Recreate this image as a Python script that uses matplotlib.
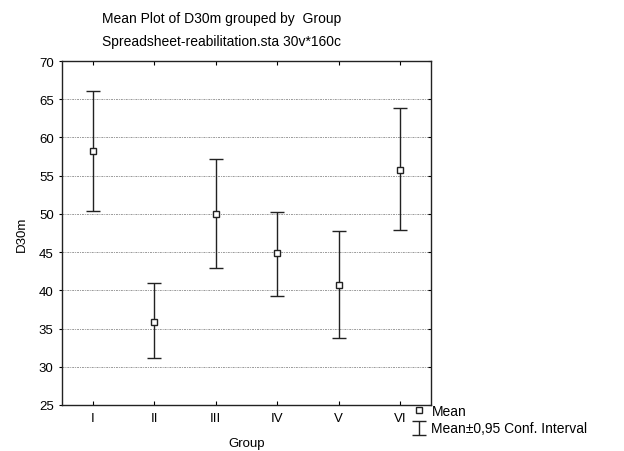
import matplotlib
matplotlib.use("Agg")
import matplotlib.pyplot as plt

plt.rcParams['font.family'] = ['Liberation Sans', 'DejaVu Sans']

# group means and 95% confidence limits
groups = ["I", "II", "III", "IV", "V", "VI"]
means = [58.2, 35.9, 50.0, 44.9, 40.7, 55.8]
upper = [66.1, 41.0, 57.2, 50.3, 47.8, 63.8]
lower = [50.4, 31.1, 42.9, 39.3, 33.7, 47.9]

x = list(range(1, len(groups) + 1))
err_lo = [m - l for m, l in zip(means, lower)]
err_hi = [u - m for u, m in zip(upper, means)]

fig = plt.figure(figsize=(6.24, 4.52), dpi=100)
ax = fig.add_axes([62 / 624, 1 - 406 / 452, 369 / 624, 344 / 452])

# whiskers and caps, then the mean squares on top
h_ci = ax.errorbar(x, means, yerr=[err_lo, err_hi], fmt='none',
                   ecolor='#222222', elinewidth=1, capsize=4.7, capthick=1,
                   zorder=3)
h_mean, = ax.plot(x, means, 's', ls='none', mfc='white', mec='#222222',
                  ms=4, mew=1, zorder=4)

ax.set_xlim(0.5, 6.5)
ax.set_ylim(25, 70)
ax.set_yticks(range(25, 71, 5))
ax.set_xticks(x)
ax.set_xticklabels(groups)

ax.yaxis.grid(True, color='#999999', linestyle=(0, (2, 1, 1, 1)), linewidth=0.7)
ax.set_axisbelow(True)

ax.tick_params(axis='x', direction='in', top=True, length=3, labelsize=9.5, pad=5)
ax.tick_params(axis='y', direction='out', length=2, labelsize=9.5, pad=4)
ax.tick_params(axis='y', which='both', right=True)
for t in ax.yaxis.get_ticklines()[1::2]:
    t.set_marker(0)
for sp in ax.spines.values():
    sp.set_linewidth(1)
    sp.set_color('#222222')

ax.set_xlabel("Group", fontsize=9.5, labelpad=9.5)
ax.set_ylabel("D30m", fontsize=9.5, labelpad=8)

fig.text(222 / 624, 1 - 19 / 452, "Mean Plot of D30m grouped by  Group",
         ha='center', va='center', fontsize=10)
fig.text(222 / 624, 1 - 42 / 452, "Spreadsheet-reabilitation.sta 30v*160c",
         ha='center', va='center', fontsize=10)

# legend outside the axes, bottom right
fig.legend([h_mean, h_ci], ["Mean", "Mean\u00b10,95 Conf. Interval"],
           loc='upper left', bbox_to_anchor=(405 / 624, 1 - 398 / 452),
           frameon=False, fontsize=10, handlelength=1.0, handletextpad=0.4,
           labelspacing=0.25, borderpad=0)

fig.savefig("out.png", dpi=100)
